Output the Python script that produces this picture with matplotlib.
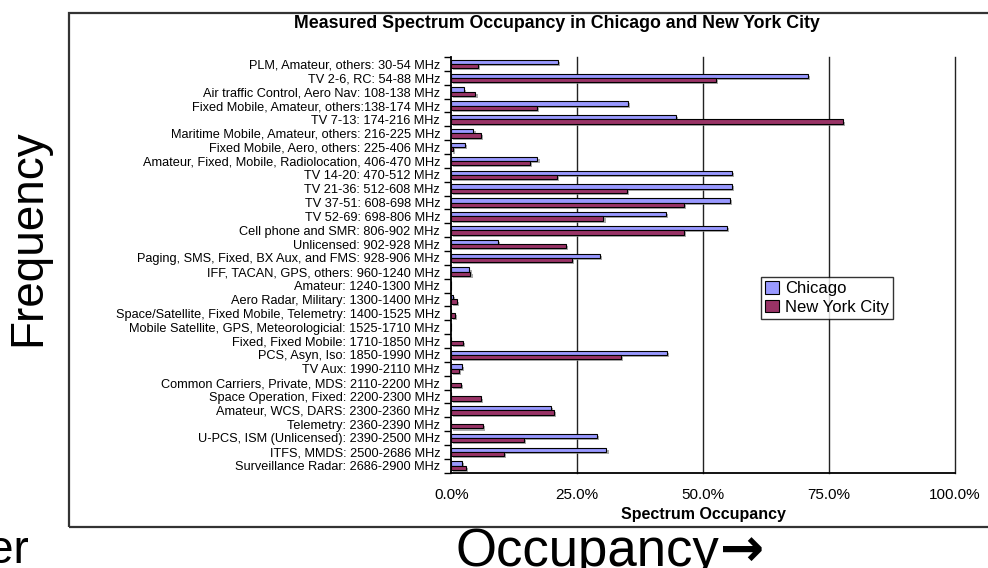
import matplotlib
matplotlib.use("Agg")
import matplotlib.pyplot as plt
import matplotlib.patheffects as pe
from matplotlib.patches import Rectangle
from matplotlib.ticker import PercentFormatter, FixedLocator
import numpy as np

categories = [
    "PLM, Amateur, others: 30-54 MHz",
    "TV 2-6, RC: 54-88 MHz",
    "Air traffic Control, Aero Nav: 108-138 MHz",
    "Fixed Mobile, Amateur, others:138-174 MHz",
    "TV 7-13: 174-216 MHz",
    "Maritime Mobile, Amateur, others: 216-225 MHz",
    "Fixed Mobile, Aero, others: 225-406 MHz",
    "Amateur, Fixed, Mobile, Radiolocation, 406-470 MHz",
    "TV 14-20: 470-512 MHz",
    "TV 21-36: 512-608 MHz",
    "TV 37-51: 608-698 MHz",
    "TV 52-69: 698-806 MHz",
    "Cell phone and SMR: 806-902 MHz",
    "Unlicensed: 902-928 MHz",
    "Paging, SMS, Fixed, BX Aux, and FMS: 928-906 MHz",
    "IFF, TACAN, GPS, others: 960-1240 MHz",
    "Amateur: 1240-1300 MHz",
    "Aero Radar, Military: 1300-1400 MHz",
    "Space/Satellite, Fixed Mobile, Telemetry: 1400-1525 MHz",
    "Mobile Satellite, GPS, Meteorologicial: 1525-1710 MHz",
    "Fixed, Fixed Mobile: 1710-1850 MHz",
    "PCS, Asyn, Iso: 1850-1990 MHz",
    "TV Aux: 1990-2110 MHz",
    "Common Carriers, Private, MDS: 2110-2200 MHz",
    "Space Operation, Fixed: 2200-2300 MHz",
    "Amateur, WCS, DARS: 2300-2360 MHz",
    "Telemetry: 2360-2390 MHz",
    "U-PCS, ISM (Unlicensed): 2390-2500 MHz",
    "ITFS, MMDS: 2500-2686 MHz",
    "Surveillance Radar: 2686-2900 MHz",
]

chicago = [0.212, 0.708, 0.026, 0.351, 0.446, 0.044, 0.027, 0.171, 0.558, 0.557,
           0.554, 0.427, 0.548, 0.093, 0.296, 0.036, 0.0, 0.004, 0.0, 0.0,
           0.0, 0.429, 0.022, 0.0, 0.0, 0.198, 0.0, 0.290, 0.308, 0.021]

new_york = [0.053, 0.525, 0.048, 0.170, 0.778, 0.058, 0.004, 0.157, 0.210, 0.349,
            0.462, 0.302, 0.462, 0.228, 0.240, 0.038, 0.0, 0.012, 0.007, 0.0,
            0.024, 0.337, 0.015, 0.019, 0.058, 0.204, 0.063, 0.144, 0.104, 0.030]

series_names = ["Chicago", "New York City"]
x_ticks = [0.0, 0.25, 0.5, 0.75, 1.0]

W, H = 988, 568
plt.rcParams['font.family'] = ['Liberation Sans', 'DejaVu Sans']

fig = plt.figure(figsize=(W / 100, H / 100), dpi=100)

def fx(px):
    return px / W

def fy(py):
    return 1 - py / H

# chart frame (right edge outside the picture)
fig.patches.append(Rectangle((fx(69), fy(527)), fx(1100) - fx(69), fy(13) - fy(527),
                             transform=fig.transFigure, fill=False,
                             edgecolor='#333333', linewidth=1.6, zorder=0))

left, right = 451.3, 955.0
top, bottom = 57.1, 472.6
ax = fig.add_axes([fx(left), fy(bottom), fx(right) - fx(left), fy(top) - fy(bottom)])

n = len(categories)
y = np.arange(n)
bh = 0.31
shadow = [pe.SimplePatchShadow(offset=(1.5, -1.5), shadow_rgbFace='#888888', alpha=0.7),
          pe.Normal()]
b1 = ax.barh(y - bh / 2, chicago, height=bh, color='#9999FF', edgecolor='black',
             linewidth=0.8, label=series_names[0], zorder=3)
b2 = ax.barh(y + bh / 2, new_york, height=bh, color='#993366', edgecolor='black',
             linewidth=0.8, label=series_names[1], zorder=3)
for b in list(b1) + list(b2):
    b.set_path_effects(shadow)

ax.set_xlim(0, 1)
ax.set_ylim(n - 0.5, -0.5)
ax.set_xticks(x_ticks)
ax.xaxis.set_major_formatter(PercentFormatter(xmax=1, decimals=1))
ax.tick_params(axis='x', length=0, pad=11, labelsize=11, colors='black')
ax.set_yticks(y)
ax.set_yticklabels(categories, fontsize=9.2)
ax.yaxis.set_minor_locator(FixedLocator(np.arange(-0.5, n, 1.0)))
ax.tick_params(axis='y', which='major', length=0, pad=8)
ax.tick_params(axis='y', which='minor', length=5, width=1, direction='out')

for g in x_ticks[1:]:
    ax.axvline(g, color='#222222', linewidth=1.0, zorder=1, clip_on=False)

for s in ['top', 'right']:
    ax.spines[s].set_visible(False)
ax.spines['left'].set_linewidth(1.3)
ax.spines['bottom'].set_linewidth(1.3)

fig.text(fx(703.5), fy(515), "Spectrum Occupancy", ha='center', va='center',
         fontsize=11.5, fontweight='bold')

fig.text(fx(557), fy(24), "Measured Spectrum Occupancy in Chicago and New York City",
         ha='center', va='center', fontsize=12.8, fontweight='bold')

leg = fig.legend(handles=[b1, b2], labels=series_names, loc='upper left',
                 bbox_to_anchor=(fx(761), fy(277)), borderaxespad=0,
                 fontsize=12, frameon=True, fancybox=False, edgecolor='black',
                 handlelength=0.8, handleheight=0.8, handletextpad=0.4,
                 borderpad=0.25, labelspacing=0.2)
leg.get_frame().set_linewidth(1.0)
for h in leg.legend_handles:
    h.set_path_effects([])

# slide text around the chart
fig.text(fx(40), fy(238), "Frequency", rotation=90, rotation_mode='anchor',
         ha='center', va='baseline', fontsize=33)
occ = fig.text(fx(455), fy(566), "Occupancy", ha='left', va='baseline', fontsize=38)
fig.canvas.draw()
bb = occ.get_window_extent()
fig.text(bb.x1 / W + fx(1), fy(566), "\u2192", ha='left', va='baseline', fontsize=38,
         fontweight='bold', family=['DejaVu Sans'])
fig.text(fx(29), fy(563), "er", ha='right', va='baseline', fontsize=33)

fig.savefig("out.png", dpi=100)
